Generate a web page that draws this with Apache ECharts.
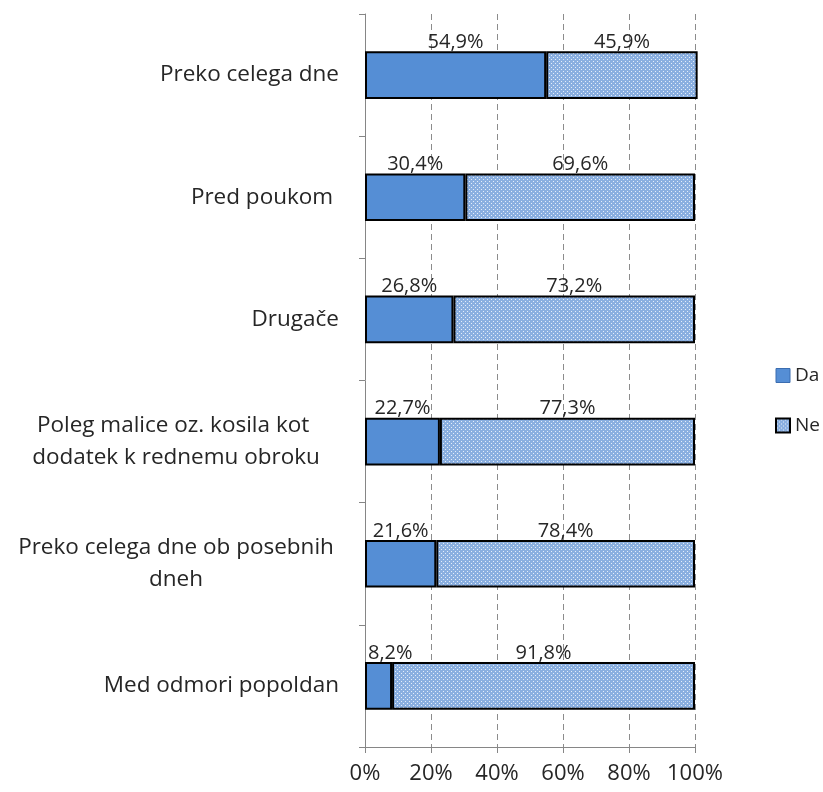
<!DOCTYPE html>
<html>
<head>
<meta charset="utf-8">
<script src="https://cdn.jsdelivr.net/npm/echarts@6/dist/echarts.min.js"></script>
<style>
  html, body { margin: 0; padding: 0; background: #fff; }
  #chart { width: 823px; height: 792px; }
</style>
</head>
<body>
<div id="chart"></div>
<script>
// kategorije (od zgoraj navzdol)
const categories = [
  "Preko celega dne",
  "Pred poukom ",
  "Drugače",
  "Poleg malice oz. kosila kot \ndodatek k rednemu obroku",
  "Preko celega dne ob posebnih\ndneh",
  "Med odmori popoldan"
];
const daValues = [54.9, 30.4, 26.8, 22.7, 21.6, 8.2];
const neValues = [45.9, 69.6, 73.2, 77.3, 78.4, 91.8];
const xTicks = [0, 20, 40, 60, 80, 100];

// vzorec s pikicami za "Ne"
function dotPattern() {
  const c = document.createElement("canvas");
  c.width = 4;
  c.height = 4;
  const ctx = c.getContext("2d");
  ctx.fillStyle = "#8aafe0";
  ctx.fillRect(0, 0, 4, 4);
  ctx.fillStyle = "#e4edf9";
  ctx.fillRect(1, 1, 1, 1);
  ctx.fillRect(3, 3, 1, 1);
  return c;
}

const fontFam = "'Open Sans', 'Noto Sans', sans-serif";
const txt = "#262626";
const fmt = p => p.value.toFixed(1).replace(".", ",") + "%";

const chart = echarts.init(document.getElementById("chart"));
const option = {
  animation: false,
  grid: { left: 365, right: 128, top: 14, bottom: 45 },
  legend: {
    orient: "vertical",
    left: 775,
    top: 366,
    padding: 0,
    icon: "rect",
    itemWidth: 14,
    itemHeight: 14,
    itemGap: 31,
    textStyle: { fontFamily: fontFam, fontSize: 19, color: txt },
    data: [
      { name: "Da", itemStyle: { borderColor: "#3b6db0", borderWidth: 1 } },
      { name: "Ne", itemStyle: { borderColor: "#000", borderWidth: 2 } }
    ]
  },
  xAxis: {
    type: "value",
    min: 0,
    max: 100,
    interval: 20,
    axisLine: { show: true, lineStyle: { color: "#868686", width: 1 } },
    axisTick: { show: true, length: 6, lineStyle: { color: "#868686" } },
    axisLabel: {
      margin: 16,
      fontFamily: fontFam,
      fontSize: 22,
      color: txt,
      formatter: v => (xTicks.includes(v) ? v + "%" : "")
    },
    splitLine: { show: true, lineStyle: { color: "#8c8c8c", type: [6, 4], width: 1 } }
  },
  yAxis: {
    type: "category",
    inverse: true,
    data: categories,
    axisLine: { show: true, lineStyle: { color: "#868686", width: 1 } },
    axisTick: { show: true, length: 6, lineStyle: { color: "#868686" } },
    axisLabel: {
      margin: 26,
      fontFamily: fontFam,
      fontSize: 22.5,
      lineHeight: 32,
      color: txt,
      formatter: v => {
        if (v.indexOf("\n") >= 0) {
          return v.split("\n").map(s => "{c|" + s + "}").join("\n");
        }
        return v;
      },
      rich: {
        c: { align: "center", width: 326, fontFamily: fontFam, fontSize: 22.5, lineHeight: 32, color: txt }
      }
    }
  },
  series: [
    {
      name: "Da",
      type: "bar",
      stack: "s",
      clip: false,
      barCategoryGap: "61%",
      data: daValues,
      itemStyle: { color: "#558ed5", borderColor: "#000", borderWidth: 2 },
      label: {
        show: true,
        position: "top",
        distance: -1,
        fontFamily: fontFam,
        fontSize: 20,
        color: txt,
        formatter: fmt
      },
      labelLayout: p => (p.labelRect.x < 368 ? { dx: 368 - p.labelRect.x } : {})
    },
    {
      name: "Ne",
      type: "bar",
      stack: "s",
      clip: false,
      data: neValues,
      itemStyle: {
        color: { image: dotPattern(), repeat: "repeat" },
        borderColor: "#000",
        borderWidth: 2
      },
      label: {
        show: true,
        position: "top",
        distance: -1,
        fontFamily: fontFam,
        fontSize: 20,
        color: txt,
        formatter: fmt
      }
    }
  ]
};
chart.setOption(option);
</script>
</body>
</html>
